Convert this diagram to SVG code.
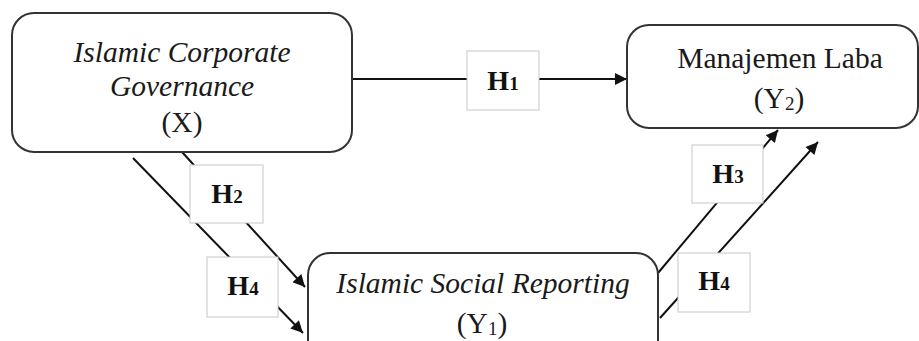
<svg xmlns="http://www.w3.org/2000/svg" width="919" height="341" viewBox="0 0 919 341">
<style>
.node{fill:#fff;stroke:#333;stroke-width:2}
.lbl{fill:#fff;stroke:#c8c8c8;stroke-width:1}
.t{font-family:"Liberation Serif","Times New Roman",serif;font-size:29.5px;fill:#1a1a1a;text-anchor:middle}
.i{font-style:italic}
.h{font-family:"Liberation Serif","Times New Roman",serif;font-size:28px;font-weight:bold;fill:#111;text-anchor:middle}
.sub{font-size:19px}
.c{stroke:#111;stroke-width:2;fill:none;marker-end:url(#ah)}
</style>
<defs>
<marker id="ah" viewBox="0 0 10 10" refX="10" refY="5" markerWidth="15" markerHeight="12" markerUnits="userSpaceOnUse" orient="auto">
<path d="M0,0 L10,5 L0,10 z" fill="#111"/>
</marker>
</defs>
<g id="connectors">
<line class="c" x1="352" y1="79" x2="627" y2="79"/>
<line class="c" x1="182" y1="152" x2="305" y2="287"/>
<line class="c" x1="133" y1="158" x2="303" y2="333"/>
<line class="c" x1="658" y1="273" x2="778" y2="130"/>
<line class="c" x1="660" y1="318" x2="818" y2="142"/>
</g>
<g id="labels">
<g id="H1"><rect class="lbl" x="467" y="51" width="72" height="59"/><text class="h" x="503" y="90">H<tspan class="sub">1</tspan></text></g>
<g id="H2"><rect class="lbl" x="190" y="165" width="73" height="58"/><text class="h" x="227" y="203">H<tspan class="sub">2</tspan></text></g>
<g id="H4a"><rect class="lbl" x="207" y="257" width="71" height="60"/><text class="h" x="243" y="295">H<tspan class="sub">4</tspan></text></g>
<g id="H3"><rect class="lbl" x="692" y="145" width="71" height="58"/><text class="h" x="728" y="183">H<tspan class="sub">3</tspan></text></g>
<g id="H4b"><rect class="lbl" x="678" y="253" width="72" height="59"/><text class="h" x="714" y="290">H<tspan class="sub">4</tspan></text></g>
</g>
<g id="X">
<rect class="node" x="12" y="13" width="340" height="139" rx="22"/>
<text class="t i" x="182" y="62">Islamic Corporate</text>
<text class="t i" x="182" y="96">Governance</text>
<text class="t" x="182" y="132">(X)</text>
</g>
<g id="Y2">
<rect class="node" x="627" y="25" width="291" height="103" rx="22"/>
<text class="t" x="780" y="68">Manajemen Laba</text>
<text class="t" x="779" y="108">(Y<tspan class="sub" dy="2">2</tspan><tspan dy="-2">)</tspan></text>
</g>
<g id="Y1">
<rect class="node" x="308" y="253" width="350" height="110" rx="22"/>
<text class="t i" x="483" y="293">Islamic Social Reporting</text>
<text class="t" x="482" y="333">(Y<tspan class="sub" dy="2">1</tspan><tspan dy="-2">)</tspan></text>
</g>
</svg>
